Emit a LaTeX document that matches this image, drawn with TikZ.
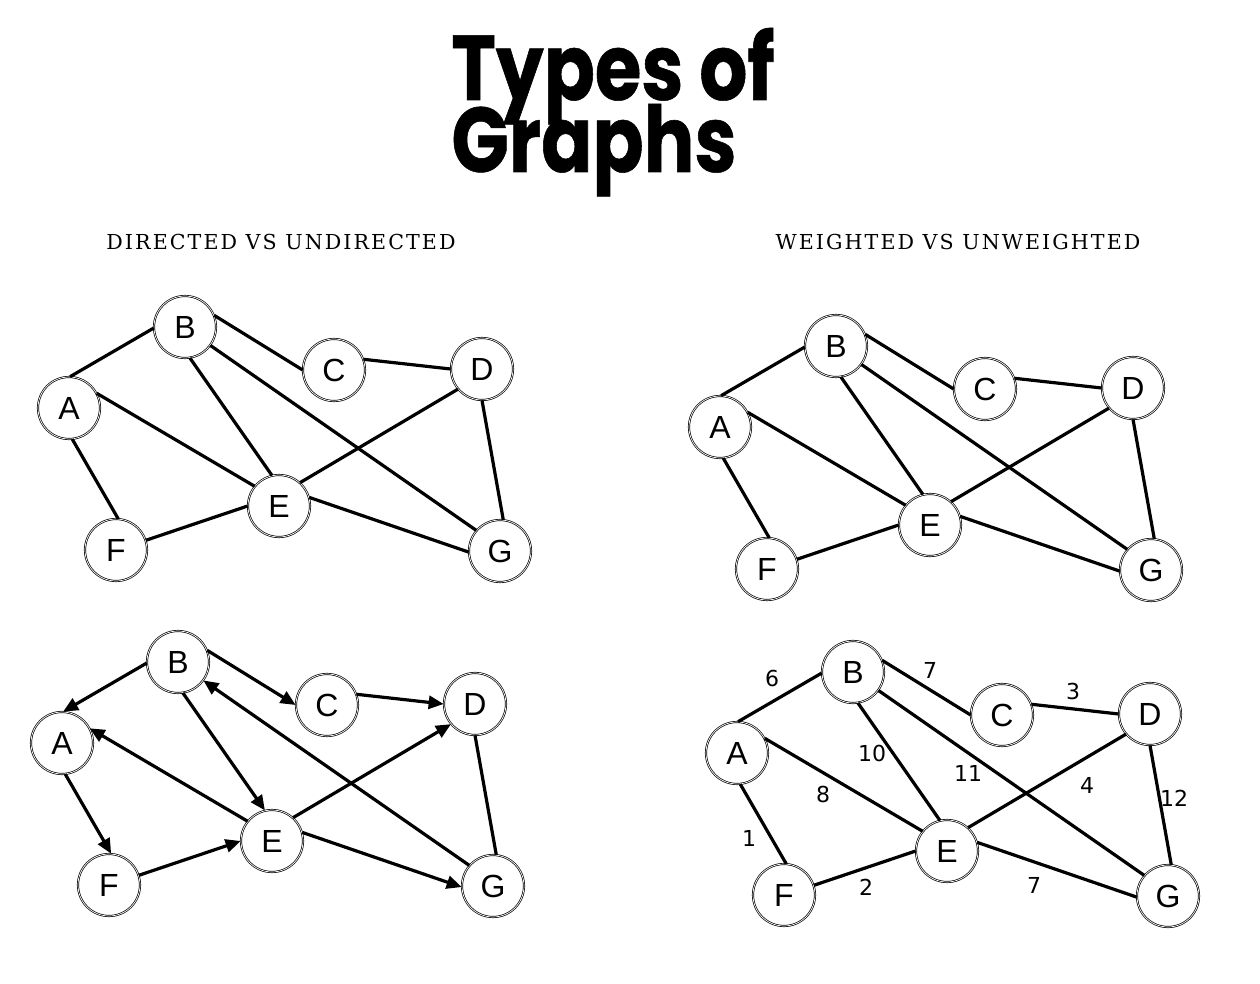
\documentclass[tikz,border=0pt]{standalone}
\usepackage{fontspec}
\setmainfont{Liberation Sans}
\newfontfamily\titlefont{Poppins}[FakeStretch=0.82, FakeBold=0.6]
\newfontfamily\subfont{DejaVu Serif}[LetterSpace=10]
\newfontfamily\weightfont{DejaVu Sans}
\newcommand{\tightlines}{\lineskiplimit-60pt\relax}
\usepackage{xcolor}
\definecolor{colInk}{HTML}{000000}
\usepackage{tikz}
\usetikzlibrary{arrows.meta, positioning}
\tikzset{
    myvertex/.style={
        circle, draw=colInk, fill=white,
        line width=0.35pt, double=white, double distance=0.35pt,
        minimum size=31pt, inner sep=0pt,
        font=\fontsize{16}{16}\selectfont
    },
    myedge/.style={line width=1.6pt, color=colInk},
    myarrow/.style={myedge, -{Triangle[length=7.5pt, width=6.5pt]}},
    myweight/.style={font=\weightfont\fontsize{11}{11}\selectfont, inner sep=0pt},
    mysub/.style={font=\subfont\fontsize{10.3}{12}\selectfont, inner sep=0pt},
    mytitle/.style={font={\titlefont\bfseries\fontsize{46}{36}\selectfont\tightlines},
                    inner sep=0pt},
}
% the seven vertices, same layout in every panel
\newcommand{\placevertices}{%
    \foreach \n/\x/\y in {A/69/408, B/185/327, C/334/370, D/482/369,
                          E/279/506, F/116/550, G/500/551}
        \node[myvertex] (\n) at (\x,\y) {\n};
}
\newcommand{\undirectededges}{%
    \foreach \u/\a/\v/\b in {A/88/B/182, B/22/C/180, C/20/D/180, A/28/E/141,
                             B/279/E/103, B/324/G/139, A/276/F/86, F/18/E/180,
                             E/48/D/220, E/16/G/182, D/270/G/84}
        \draw[myedge] (\u.\a) -- (\v.\b);
}

\begin{document}
\begin{tikzpicture}[x=0.5pt, y=-0.5pt]
    \useasboundingbox (0,0) rectangle (1260,984);

    \node[mytitle, align=left, anchor=base west] (title) at (451,172) {Types of\\Graphs};

    \node[mysub] (subdir) at (281,242) {DIRECTED VS UNDIRECTED};
    \node[mysub] (subwt) at (958,242) {WEIGHTED VS UNWEIGHTED};

    % undirected
    \begin{scope}[name prefix=ud-]
        \placevertices
        \undirectededges
    \end{scope}

    % unweighted
    \begin{scope}[shift={(651,19)}, name prefix=uw-]
        \placevertices
        \undirectededges
    \end{scope}

    % directed
    \begin{scope}[shift={(-7,335)}, name prefix=di-]
        \placevertices
        \foreach \u/\a/\v/\b in {B/182/A/88, B/22/C/180, C/20/D/180, B/279/E/103,
                                 E/141/A/28, A/276/F/86, F/18/E/180, E/48/D/220,
                                 E/16/G/182, G/139/B/324}
            \draw[myarrow] (\u.\a) -- (\v.\b);
        \draw[myedge] (D.270) -- (G.84);
    \end{scope}

    % weighted
    \begin{scope}[shift={(668,345)}, name prefix=wt-]
        \placevertices
        \undirectededges
        \foreach \w/\x/\y [count=\i] in {6/104/333, 7/262/325, 3/405/346, 10/204/408,
                                         11/300/428, 8/155/449, 4/419/440, 12/506/453,
                                         1/81/493, 2/198/542, 7/366/540}
            \node[myweight] (w\i) at (\x,\y) {\w};
    \end{scope}
\end{tikzpicture}
\end{document}
